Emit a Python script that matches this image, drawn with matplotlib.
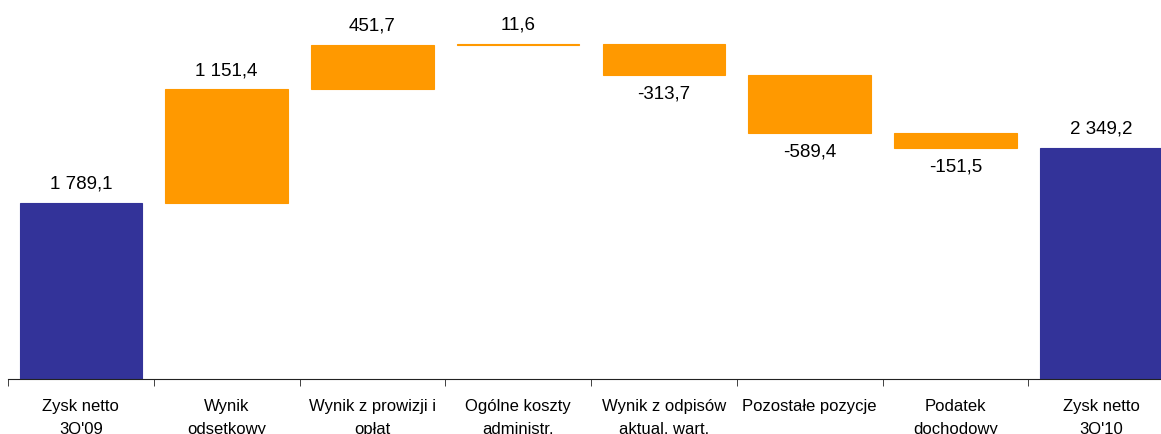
import numpy as np
import matplotlib
matplotlib.use('Agg')
import matplotlib.pyplot as plt

plt.rcParams['font.family'] = ['Liberation Sans', 'DejaVu Sans']

# Data
categories = ["Zysk netto\n3Q'09", "Wynik\nodsetkowy", "Wynik z prowizji i\nopłat",
              "Ogólne koszty\nadministr.", "Wynik z odpisów\naktual. wart.",
              "Pozostałe pozycje", "Podatek\ndochodowy", "Zysk netto\n3Q'10"]
start_value = 1789.1
changes = [1151.4, 451.7, 11.6, -313.7, -589.4, -151.5]
end_value = 2349.2

blue = "#333399"
orange = "#FF9900"


def fmt(v):
    s = f"{abs(v):,.1f}".replace(",", " ").replace(".", ",")
    return ("-" if v < 0 else "") + s


# waterfall geometry
running = start_value + np.concatenate([[0], np.cumsum(changes)])
heights = [start_value] + changes + [end_value]
bottoms = [0] + list(running[:-1]) + [0]
colors = [blue] + [orange] * len(changes) + [blue]
x = np.arange(len(categories))

fig = plt.figure(figsize=(11.61, 4.35), dpi=100)
ax = fig.add_axes([8 / 1161, 55 / 435, 1166 / 1161, 380 / 435])

ax.bar(x, heights, bottom=bottoms, width=0.84, color=colors,
       edgecolor=colors, linewidth=0.8)

# value labels
for i, (h, b) in enumerate(zip(heights, bottoms)):
    off = 14 if h >= 0 else -13
    ax.annotate(fmt(h), (x[i], b + h), xytext=(0, off), textcoords='offset points',
                ha='center', va='center', fontsize=13.5)

ax.set_xlim(-0.5, len(categories) - 0.5)
ax.set_ylim(0, 3858)

for s in ['top', 'right', 'left']:
    ax.spines[s].set_visible(False)
ax.spines['bottom'].set_color('#222222')
ax.set_yticks([])

ax.set_xticks(x)
ax.set_xticklabels(categories, fontsize=12, linespacing=1.6)
ax.tick_params(axis='x', which='major', length=0, pad=14)
ax.set_xticks(np.arange(-0.5, len(categories), 1), minor=True)
ax.tick_params(axis='x', which='minor', length=5, color='#222222')

plt.savefig("out.png", dpi=100, facecolor="white")
